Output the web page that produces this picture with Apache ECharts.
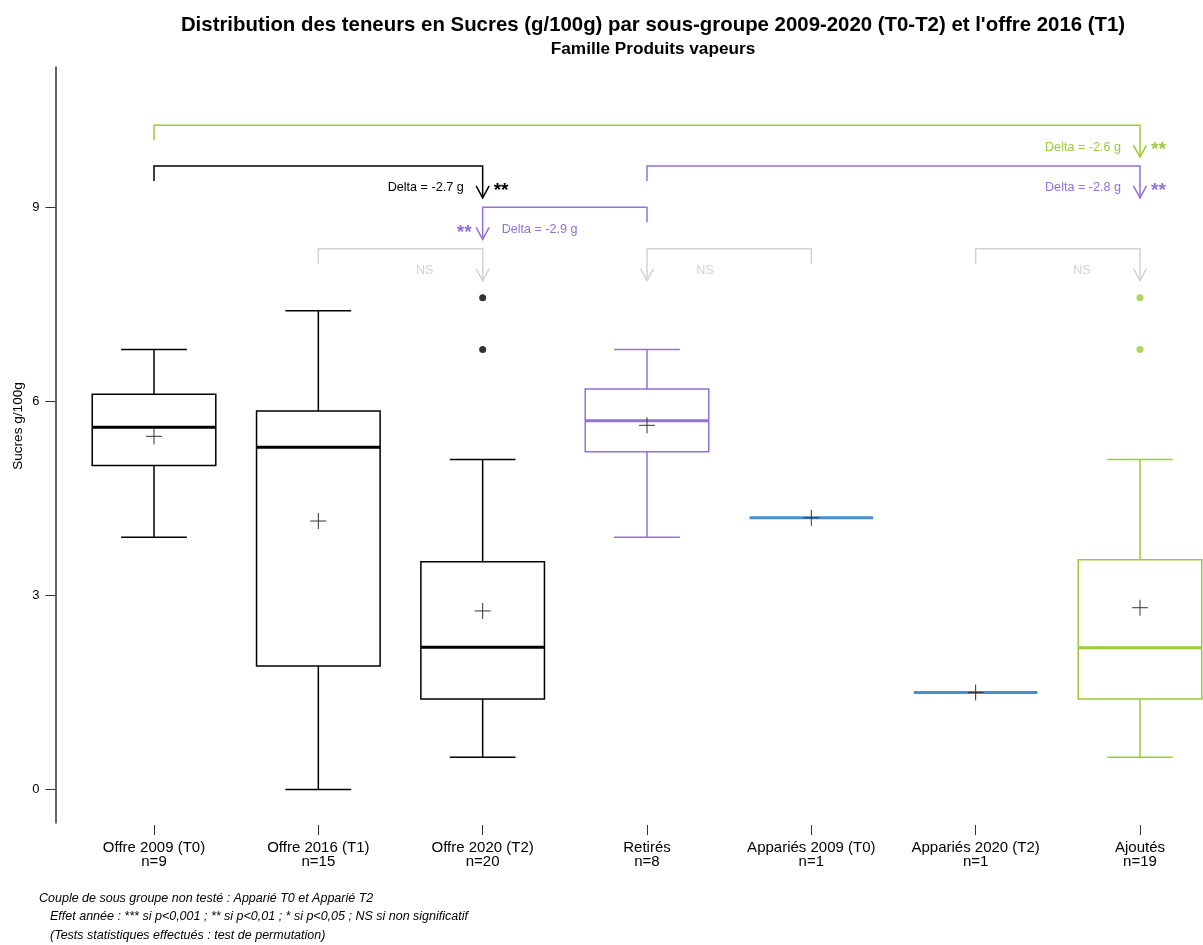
<!DOCTYPE html>
<html><head><meta charset="utf-8">
<script src="https://cdn.jsdelivr.net/npm/echarts@6/dist/echarts.min.js"></script>
<style>html,body{margin:0;padding:0;background:#fff}#c{width:1203px;height:945px}</style>
</head><body><div id="c"></div>
<script>
// ---- data ----
const categories = ['Offre 2009 (T0)', 'Offre 2016 (T1)', 'Offre 2020 (T2)', 'Retirés', 'Appariés 2009 (T0)', 'Appariés 2020 (T2)', 'Ajoutés'];
const counts = [9, 15, 20, 8, 1, 1, 19];
const whiskerLow  = [3.9, 0.0, 0.5, 3.9, 4.2, 1.5, 0.5];
const quartile1   = [5.01, 1.91, 1.4, 5.22, 4.2, 1.5, 1.4];
const medians     = [5.6, 5.29, 2.2, 5.7, 4.2, 1.5, 2.19];
const quartile3   = [6.11, 5.85, 3.52, 6.19, 4.2, 1.5, 3.55];
const whiskerHigh = [6.8, 7.4, 5.1, 6.8, 4.2, 1.5, 5.1];
const means       = [5.46, 4.15, 2.76, 5.63, 4.2, 1.5, 2.81];
const outliers    = [[], [], [7.6, 6.8], [], [], [], [7.6, 6.8]];
const yTicks = [0, 3, 6, 9];

// comparisons (bracket from group -> arrow at group)
const cmpFrom   = [1, 1, 4, 4, 2, 5, 6];
const cmpTo     = [7, 3, 7, 3, 3, 4, 7];
const cmpLevel  = [10.27, 9.64, 9.64, 9.0, 8.36, 8.36, 8.36];
const cmpDelta  = ['Delta = -2.6 g', 'Delta = -2.7 g', 'Delta = -2.8 g', 'Delta = -2.9 g', '', '', ''];
const cmpSig    = ['**', '**', '**', '**', 'NS', 'NS', 'NS'];
const cmpKind   = ['green', 'black', 'purple', 'purple', 'grey', 'grey', 'grey'];

// ---- styles ----
const COLORS = {black: '#000000', purple: '#9370DB', green: '#9ACD32', grey: '#D3D3D3', blue: '#4A8FD6'};
const groupKind = ['black', 'black', 'black', 'purple', 'blue', 'blue', 'green'];
const FONT = "'Liberation Sans', Arial, sans-serif";
const BOX_HALF = 0.376, CAP_HALF = 0.2;

const boxData = categories.map((c, i) => [i + 1, whiskerLow[i], quartile1[i], medians[i], quartile3[i], whiskerHigh[i], means[i]]);
const cmpData = cmpFrom.map((f, i) => [f, cmpTo[i], cmpLevel[i]]);
const outlierSeries = [];
outliers.forEach((arr, i) => {
  if (!arr.length) return;
  outlierSeries.push({
    type: 'scatter', symbol: 'circle', symbolSize: 7, silent: true,
    itemStyle: {color: COLORS[groupKind[i]]},
    data: arr.map(v => [i + 1, v]), z: 3
  });
});

function renderBox(params, api) {
  const i = params.dataIndex;
  const x = api.value(0);
  const lo = api.value(1), b1 = api.value(2), md = api.value(3), b3 = api.value(4), hi = api.value(5), mn = api.value(6);
  const color = COLORS[groupKind[i]];
  const L = api.coord([x - BOX_HALF, md])[0], R = api.coord([x + BOX_HALF, md])[0];
  const cx = api.coord([x, md])[0];
  const cL = api.coord([x - CAP_HALF, md])[0], cR = api.coord([x + CAP_HALF, md])[0];
  const yLo = api.coord([x, lo])[1], y1 = api.coord([x, b1])[1], yMd = api.coord([x, md])[1], y3 = api.coord([x, b3])[1], yHi = api.coord([x, hi])[1];
  const yMn = api.coord([x, mn])[1];
  const ls = {stroke: color, lineWidth: 1.5, fill: null};
  const children = [];
  if (b3 > b1) {
    children.push({type: 'rect', shape: {x: L, y: y3, width: R - L, height: y1 - y3}, style: Object.assign({}, ls)});
    children.push({type: 'line', shape: {x1: cx, y1: y3, x2: cx, y2: yHi}, style: ls});
    children.push({type: 'line', shape: {x1: cx, y1: y1, x2: cx, y2: yLo}, style: ls});
    children.push({type: 'line', shape: {x1: cL, y1: yHi, x2: cR, y2: yHi}, style: ls});
    children.push({type: 'line', shape: {x1: cL, y1: yLo, x2: cR, y2: yLo}, style: ls});
  }
  children.push({type: 'line', shape: {x1: L, y1: yMd, x2: R, y2: yMd}, style: {stroke: color, lineWidth: 3}});
  children.push({type: 'line', shape: {x1: cx - 8, y1: yMn, x2: cx + 8, y2: yMn}, style: {stroke: '#333', lineWidth: 1}, z2: 5});
  children.push({type: 'line', shape: {x1: cx, y1: yMn - 8, x2: cx, y2: yMn + 8}, style: {stroke: '#333', lineWidth: 1}, z2: 5});
  return {type: 'group', children};
}

function renderCmp(params, api) {
  const i = params.dataIndex;
  const f = api.value(0), t = api.value(1), lev = api.value(2);
  const color = COLORS[cmpKind[i]];
  const fx = api.coord([f, lev])[0];
  const [tx, by] = api.coord([t, lev]);
  const dir = t > f ? 1 : -1; // arrow on the right if 1
  const ls = {stroke: color, lineWidth: 1.5, fill: null};
  const children = [
    {type: 'polyline', shape: {points: [[fx, by + 15], [fx, by], [tx, by], [tx, by + 32]]}, style: ls},
    {type: 'polyline', shape: {points: [[tx - 6.5, by + 20], [tx, by + 32], [tx + 6.5, by + 20]]}, style: ls}
  ];
  const ty = by + 22;
  if (cmpDelta[i]) {
    children.push({type: 'text', x: tx - dir * 19, y: ty, style: {text: cmpDelta[i], fill: color, font: '12.6px ' + FONT, align: dir > 0 ? 'right' : 'left', verticalAlign: 'middle'}});
    children.push({type: 'text', x: tx + dir * 11, y: ty + 3, style: {text: cmpSig[i], fill: color, font: 'bold 19px ' + FONT, align: dir > 0 ? 'left' : 'right', verticalAlign: 'middle'}});
  } else {
    children.push({type: 'text', x: tx - dir * 58, y: ty, style: {text: cmpSig[i], fill: color, font: '12.6px ' + FONT, align: 'center', verticalAlign: 'middle'}});
  }
  return {type: 'group', children};
}

const chart = echarts.init(document.getElementById('c'));
chart.setOption({
  animation: false,
  backgroundColor: '#fff',
  textStyle: {fontFamily: FONT},
  title: [
    {text: "Distribution des teneurs en Sucres (g/100g) par sous-groupe 2009-2020 (T0-T2) et l'offre 2016 (T1)", left: 648, top: 10, textAlign: 'center',
     textStyle: {fontSize: 20.4, fontWeight: 'bold', color: '#000', fontFamily: FONT}},
    {text: 'Famille Produits vapeurs', left: 648, top: 36, textAlign: 'center',
     textStyle: {fontSize: 17.2, fontWeight: 'bold', color: '#000', fontFamily: FONT}}
  ],
  graphic: [
    {type: 'text', x: 18, y: 426, rotation: Math.PI / 2, style: {text: 'Sucres g/100g', font: '13.6px ' + FONT, fill: '#000', align: 'center', verticalAlign: 'middle'}},
    {type: 'text', x: 39, y: 899, style: {text: 'Couple de sous groupe non testé : Apparié T0 et Apparié T2', font: 'italic 12.5px ' + FONT, fill: '#000', verticalAlign: 'middle'}},
    {type: 'text', x: 50, y: 917, style: {text: 'Effet année : *** si p<0,001 ; ** si p<0,01 ; * si p<0,05 ; NS si non significatif', font: 'italic 12.5px ' + FONT, fill: '#000', verticalAlign: 'middle'}},
    {type: 'text', x: 50, y: 936, style: {text: '(Tests statistiques effectués : test de permutation)', font: 'italic 12.5px ' + FONT, fill: '#000', verticalAlign: 'middle'}}
  ],
  grid: {left: 55.4, right: 5.5, top: 67, bottom: 122, containLabel: false},
  xAxis: {
    type: 'value', min: 0.4, max: 7.35, offset: 2,
    axisLine: {show: false, onZero: false}, splitLine: {show: false},
    axisTick: {show: true, length: 10, customValues: categories.map((c, i) => i + 1), lineStyle: {color: '#333', width: 1}},
    axisLabel: {customValues: categories.map((c, i) => i + 1), formatter: v => categories[Math.round(v) - 1] + '\nn=' + counts[Math.round(v) - 1],
      fontSize: 15, lineHeight: 14, color: '#000', margin: 16, fontFamily: FONT}
  },
  yAxis: {
    type: 'value', min: -0.518, max: 11.169,
    axisLine: {show: true, lineStyle: {color: '#333', width: 1.5}},
    splitLine: {show: false},
    axisTick: {show: true, length: 10, customValues: yTicks, lineStyle: {color: '#333', width: 1}},
    axisLabel: {customValues: yTicks, fontSize: 13, color: '#000', margin: 16, fontFamily: FONT}
  },
  series: [
    {type: 'custom', renderItem: renderBox, data: boxData, encode: {x: 0, y: [1, 5]}, silent: true, z: 2, clip: false},
    {type: 'custom', renderItem: renderCmp, data: cmpData, encode: {x: [0, 1], y: 2}, silent: true, z: 2, clip: false}
  ].concat(outlierSeries)
});
</script></body></html>
